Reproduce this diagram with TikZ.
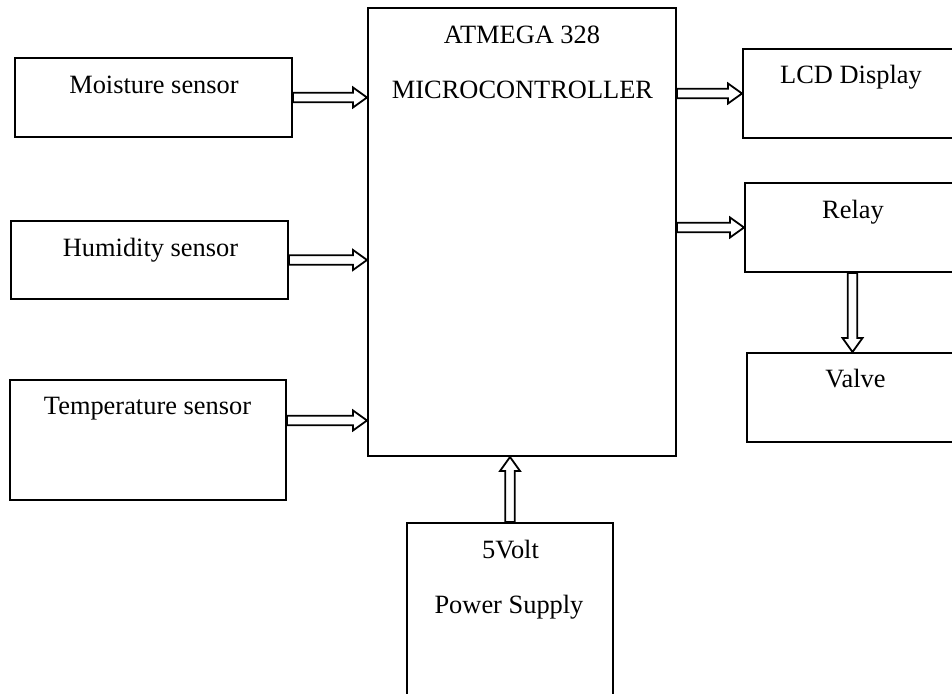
\documentclass[tikz,border=0pt]{standalone}
\usepackage{fontspec}
\setmainfont{Liberation Serif}
\usetikzlibrary{calc,fit}

% hollow block arrow from #1 to #2 (tip on #2)
\newcommand{\fatarrow}[2]{%
  \coordinate (fa-h) at ($(#2)!7pt!(#1)$);
  \draw[pipe] ($(#1)!2.4pt!90:(#2)$) -- ($(fa-h)!2.4pt!90:(#2)$)
    -- ($(fa-h)!5pt!90:(#2)$) -- (#2) -- ($(fa-h)!5pt!-90:(#2)$)
    -- ($(fa-h)!2.4pt!-90:(#2)$) -- ($(#1)!2.4pt!-90:(#2)$) -- cycle;}

\tikzset{
  box/.style={draw, line width=1pt, inner sep=0pt},
  lbl/.style={font=\fontsize{13.2}{15}\selectfont, anchor=base, inner sep=0pt},
  pipe/.style={draw, line width=0.9pt, fill=white, line join=miter}
}

\begin{document}
\begin{tikzpicture}[x=0.5pt, y=-0.5pt]
  \useasboundingbox (0,0) rectangle (952,694);
  \clip (0,0) rectangle (952,694);
  % blocks (pixel grid of the drawing, y down)
  \node[box, fit={(15,58) (292,137)}] (moist) {};
  \node[box, fit={(11,221) (288,299)}] (humid) {};
  \node[box, fit={(10,380) (286,500)}] (temp) {};
  \node[box, fit={(368,8) (676,456)}] (mcu) {};
  \node[box, fit={(743,49) (960,138)}] (lcd) {};
  \node[box, fit={(745,183) (960,272)}] (relay) {};
  \node[box, fit={(747,353) (960,442)}] (valve) {};
  \node[box, fit={(407,523) (613,720)}] (psu) {};
  % texts, set near the top of each block
  \node[lbl] (moistlbl) at (154,94) {Moisture sensor};
  \node[lbl] (humidlbl) at (150.5,256.5) {Humidity sensor};
  \node[lbl] (templbl) at (147.5,415) {Temperature sensor};
  \node[lbl] (mculbl) at (522,44) {ATMEGA 328};
  \node[lbl] (mcutype) at (522.5,99) {MICROCONTROLLER};
  \node[lbl] (lcdlbl) at (851,84) {LCD Display};
  \node[lbl] (relaylbl) at (853,219) {Relay};
  \node[lbl] (valvelbl) at (855.5,388) {Valve};
  \node[lbl] (psulbl) at (510.5,558) {5Volt};
  \node[lbl] (psutype) at (509,613) {Power Supply};
  % connector end points
  \coordinate (temp-out) at ($(temp.north east)!0.34!(temp.south east)$);
  \coordinate (moist-in) at (moist.east -| mcu.west);
  \coordinate (humid-in) at (humid.east -| mcu.west);
  \coordinate (temp-in) at (temp-out -| mcu.west);
  \coordinate (lcd-out) at (lcd.west -| mcu.east);
  \coordinate (relay-out) at (relay.west -| mcu.east);
  \coordinate (valve-in) at (relay.south |- valve.north);
  \coordinate (psu-in) at (psu.north |- mcu.south);
  % block arrows
  \fatarrow{moist.east}{moist-in}
  \fatarrow{humid.east}{humid-in}
  \fatarrow{temp-out}{temp-in}
  \fatarrow{lcd-out}{lcd.west}
  \fatarrow{relay-out}{relay.west}
  \fatarrow{relay.south}{valve-in}
  \fatarrow{psu.north}{psu-in}
\end{tikzpicture}
\end{document}
